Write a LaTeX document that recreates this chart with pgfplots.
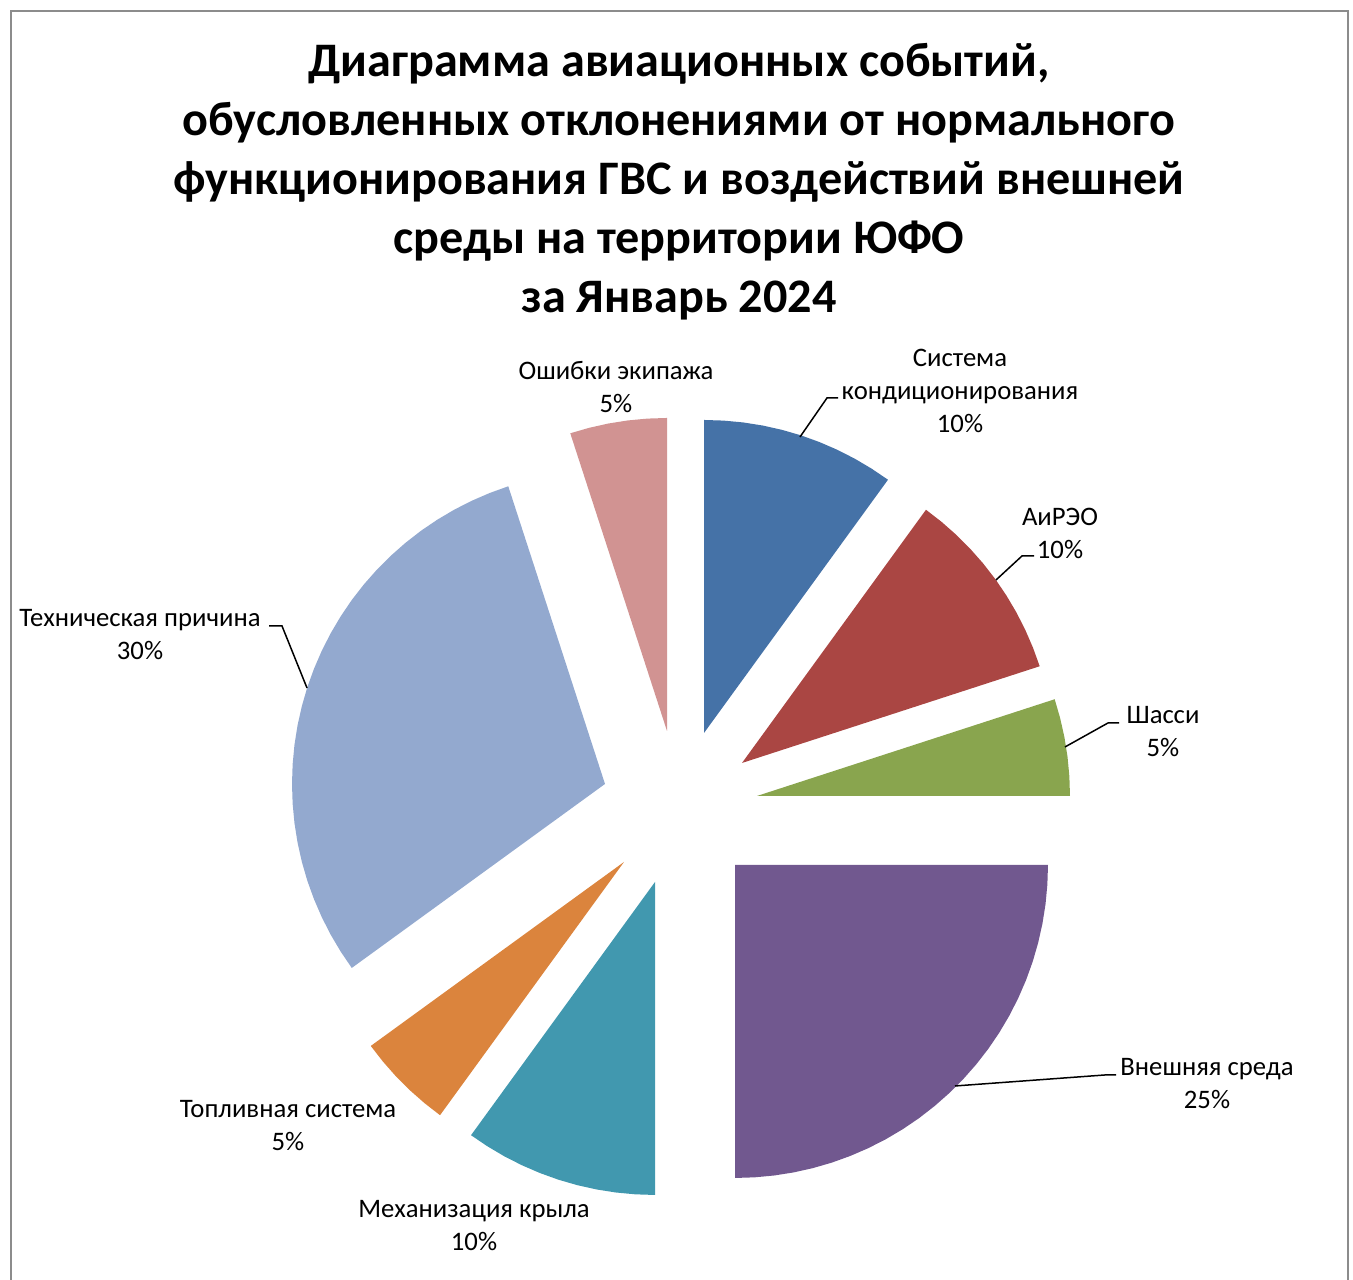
\documentclass[border=0pt]{standalone}
\usepackage{pgfplots}
\pgfplotsset{compat=1.18}
\usepackage{pgfplotstable}
\usepackage{fontspec}
\setmainfont{Carlito}

\definecolor{cA}{HTML}{4572A7}
\definecolor{cB}{HTML}{AA4643}
\definecolor{cC}{HTML}{89A54E}
\definecolor{cD}{HTML}{71588F}
\definecolor{cE}{HTML}{4198AF}
\definecolor{cF}{HTML}{DB843D}
\definecolor{cG}{HTML}{93A9CF}
\definecolor{cH}{HTML}{D19392}
\definecolor{frameGray}{HTML}{8C8C8C}

% slices: cumulative percent p (0..100), r = 0 for the apex, 1 on the rim
\pgfplotstableread[row sep=\\]{p r\\ 0 0\\ 0 1\\ 1 1\\ 2 1\\ 3 1\\ 4 1\\ 5 1\\ 6 1\\ 7 1\\ 8 1\\ 9 1\\ 10 1\\}\tA
\pgfplotstableread[row sep=\\]{p r\\ 10 0\\ 10 1\\ 11 1\\ 12 1\\ 13 1\\ 14 1\\ 15 1\\ 16 1\\ 17 1\\ 18 1\\ 19 1\\ 20 1\\}\tB
\pgfplotstableread[row sep=\\]{p r\\ 20 0\\ 20 1\\ 21 1\\ 22 1\\ 23 1\\ 24 1\\ 25 1\\}\tC
\pgfplotstableread[row sep=\\]{p r\\ 25 0\\ 25 1\\ 26 1\\ 27 1\\ 28 1\\ 29 1\\ 30 1\\ 31 1\\ 32 1\\ 33 1\\ 34 1\\ 35 1\\ 36 1\\ 37 1\\ 38 1\\ 39 1\\ 40 1\\ 41 1\\ 42 1\\ 43 1\\ 44 1\\ 45 1\\ 46 1\\ 47 1\\ 48 1\\ 49 1\\ 50 1\\}\tD
\pgfplotstableread[row sep=\\]{p r\\ 50 0\\ 50 1\\ 51 1\\ 52 1\\ 53 1\\ 54 1\\ 55 1\\ 56 1\\ 57 1\\ 58 1\\ 59 1\\ 60 1\\}\tE
\pgfplotstableread[row sep=\\]{p r\\ 60 0\\ 60 1\\ 61 1\\ 62 1\\ 63 1\\ 64 1\\ 65 1\\}\tF
\pgfplotstableread[row sep=\\]{p r\\ 65 0\\ 65 1\\ 66 1\\ 67 1\\ 68 1\\ 69 1\\ 70 1\\ 71 1\\ 72 1\\ 73 1\\ 74 1\\ 75 1\\ 76 1\\ 77 1\\ 78 1\\ 79 1\\ 80 1\\ 81 1\\ 82 1\\ 83 1\\ 84 1\\ 85 1\\ 86 1\\ 87 1\\ 88 1\\ 89 1\\ 90 1\\ 91 1\\ 92 1\\ 93 1\\ 94 1\\ 95 1\\}\tG
\pgfplotstableread[row sep=\\]{p r\\ 95 0\\ 95 1\\ 96 1\\ 97 1\\ 98 1\\ 99 1\\ 100 1\\}\tH

% #1 colour, #2 apex x, #3 apex y (pixels from top), #4 table
\newcommand\slice[4]{\addplot[fill=#1, draw=none] table[x expr={#2+313*\thisrow{r}*sin(3.6*\thisrow{p})}, y expr={1280-#3+313*\thisrow{r}*cos(3.6*\thisrow{p})}] {#4};}
\newcommand\lf{\fontsize{7.6}{9.4}\selectfont}

\begin{document}
\begin{tikzpicture}
\path[use as bounding box] (0,0) rectangle (13.53cm,12.8cm);
\begin{axis}[at={(0,0)}, anchor=south west, scale only axis,
  width=13.53cm, height=12.8cm, xmin=0, xmax=1353, ymin=0, ymax=1280,
  hide axis, clip=false]
\draw[color=frameGray, line width=0.25mm] (axis cs:11,-30) -- (axis cs:11,1269) -- (axis cs:1348,1269) -- (axis cs:1348,-30);

\slice{cA}{704}{733}{\tA}
\slice{cB}{742}{763}{\tB}
\slice{cC}{757}{796}{\tC}
\slice{cD}{735}{865}{\tD}
\slice{cE}{655}{882}{\tE}
\slice{cF}{624}{862}{\tF}
\slice{cG}{605}{784}{\tG}
\slice{cH}{667}{731}{\tH}

% leader lines
\addplot[black, line width=0.15mm] coordinates {(800,843) (827,882) (838,882)};
\addplot[black, line width=0.15mm] coordinates {(996,700) (1022,724) (1034,724)};
\addplot[black, line width=0.15mm] coordinates {(1065,533) (1108,557) (1119,557)};
\addplot[black, line width=0.15mm] coordinates {(955,194) (1105,205) (1116,205)};
\addplot[black, line width=0.15mm] coordinates {(269,654) (282,654) (307,592)};

\node[font=\bfseries\fontsize{13.7}{16.8}\selectfont, align=center, inner sep=0] at (axis cs:679,1098)
 {Диаграмма авиационных событий,\\обусловленных отклонениями от нормального\\функционирования ГВС и воздействий внешней\\среды на территории ЮФО\\за Январь 2024};

\node[font=\lf, align=center, inner sep=0] at (axis cs:616,893) {Ошибки экипажа\\5\%};
\node[font=\lf, align=center, inner sep=0] at (axis cs:960,889) {Система\\кондиционирования\\10\%};
\node[font=\lf, align=center, inner sep=0] at (axis cs:1060,746.5) {АиРЭО\\10\%};
\node[font=\lf, align=center, inner sep=0] at (axis cs:1163,548.5) {Шасси\\5\%};
\node[font=\lf, align=center, inner sep=0] at (axis cs:1207,196) {Внешняя среда\\25\%};
\node[font=\lf, align=center, inner sep=0] at (axis cs:140,645.5) {Техническая причина\\30\%};
\node[font=\lf, align=center, inner sep=0] at (axis cs:288,154.5) {Топливная система\\5\%};
\node[font=\lf, align=center, inner sep=0] at (axis cs:474,54.5) {Механизация крыла\\10\%};
\end{axis}
\end{tikzpicture}
\end{document}
